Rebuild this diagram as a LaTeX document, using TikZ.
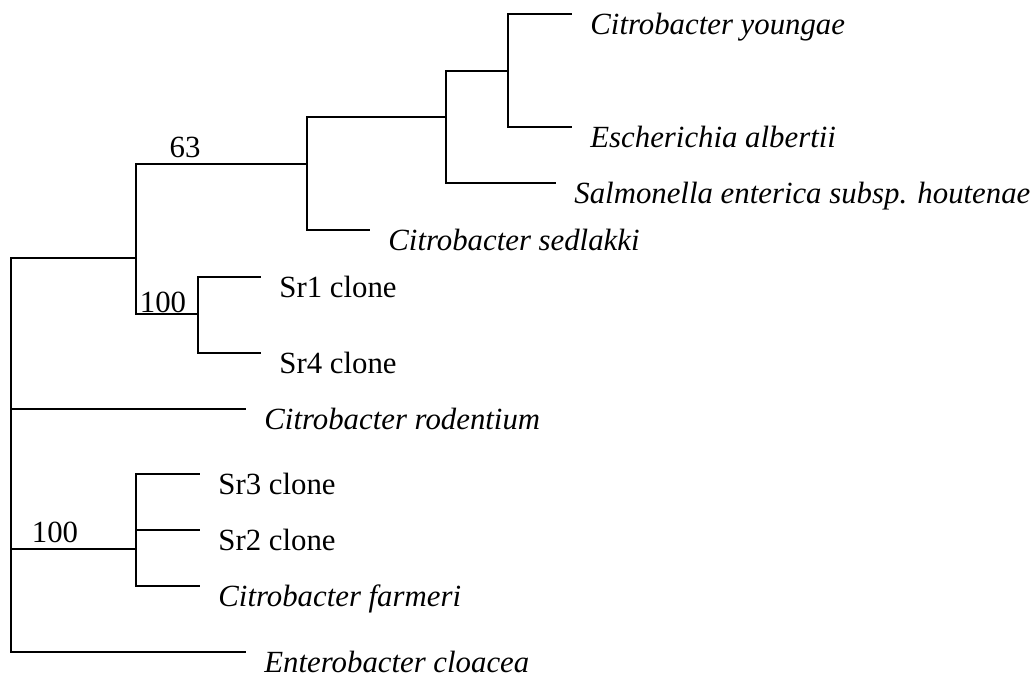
\documentclass[tikz,border=0pt]{standalone}
\usepackage{fontspec}
\setmainfont{Liberation Serif}
\usepackage{tikz}
\tikzstyle{branch} = [line width=1pt, line cap=rect]
\tikzstyle{taxon} = [anchor=base west, inner sep=0pt, xshift=9.5pt, yshift=-10pt, font=\fontsize{15.4}{18}\selectfont]
\tikzstyle{boot} = [anchor=base, inner sep=0pt, font=\fontsize{15.4}{18}\selectfont]

\begin{document}
\begin{tikzpicture}[x=0.5pt, y=-0.5pt]
   \useasboundingbox (0,0) rectangle (1033,677);
   % Internal nodes
   \coordinate (root) at (11,258);
   \coordinate (c1) at (136,258);
   \coordinate (c63) at (307,164);
   \coordinate (c2) at (446,117);
   \coordinate (c3) at (508,71);
   \coordinate (c100a) at (198,314);
   \coordinate (c100b) at (136,549);
   % Leaves
   \coordinate (youngae) at (571,14);
   \coordinate (albertii) at (571,127);
   \coordinate (salm) at (555,183);
   \coordinate (sedl) at (369,230);
   \coordinate (sr1) at (260,277);
   \coordinate (sr4) at (260,353);
   \coordinate (rod) at (245,409);
   \coordinate (sr3) at (199,474);
   \coordinate (sr2) at (199,530);
   \coordinate (farm) at (199,586);
   \coordinate (ent) at (245,652);

   % Branches
   \draw[branch] (root) -- (c1);
   \draw[branch] (root) |- (rod);
   \draw[branch] (root) |- (c100b);
   \draw[branch] (root) |- (ent);
   \draw[branch] (c1) |- (c63);
   \draw[branch] (c1) |- (c100a);
   \draw[branch] (c63) |- (c2);
   \draw[branch] (c63) |- (sedl);
   \draw[branch] (c2) |- (c3);
   \draw[branch] (c2) |- (salm);
   \draw[branch] (c3) |- (youngae);
   \draw[branch] (c3) |- (albertii);
   \draw[branch] (c100a) |- (sr1);
   \draw[branch] (c100a) |- (sr4);
   \draw[branch] (c100b) |- (sr3);
   \draw[branch] (c100b) |- (sr2);
   \draw[branch] (c100b) |- (farm);

   % Leaf labels
   \node[taxon] (l-youngae) at (youngae) {\textit{Citrobacter youngae}};
   \node[taxon] (l-albertii) at (albertii) {\textit{Escherichia albertii}};
   \node[taxon] (l-salm) at (salm) {\textit{Salmonella enterica subsp. houtenae}};
   \node[taxon] (l-sedl) at (sedl) {\textit{Citrobacter sedlakki}};
   \node[taxon] (l-sr1) at (sr1) {Sr1 clone};
   \node[taxon] (l-sr4) at (sr4) {Sr4 clone};
   \node[taxon] (l-rod) at (rod) {\textit{Citrobacter rodentium}};
   \node[taxon] (l-sr3) at (sr3) {Sr3 clone};
   \node[taxon] (l-sr2) at (sr2) {Sr2 clone};
   \node[taxon] (l-farm) at (farm) {\textit{Citrobacter farmeri}};
   \node[taxon] (l-ent) at (ent) {\textit{Enterobacter cloacea}};

   % Bootstrap values
   \node[boot] (b63) at (185,157) {63};
   \node[boot] (b100a) at (163,312) {100};
   \node[boot] (b100b) at (55,542) {100};
\end{tikzpicture}
\end{document}
